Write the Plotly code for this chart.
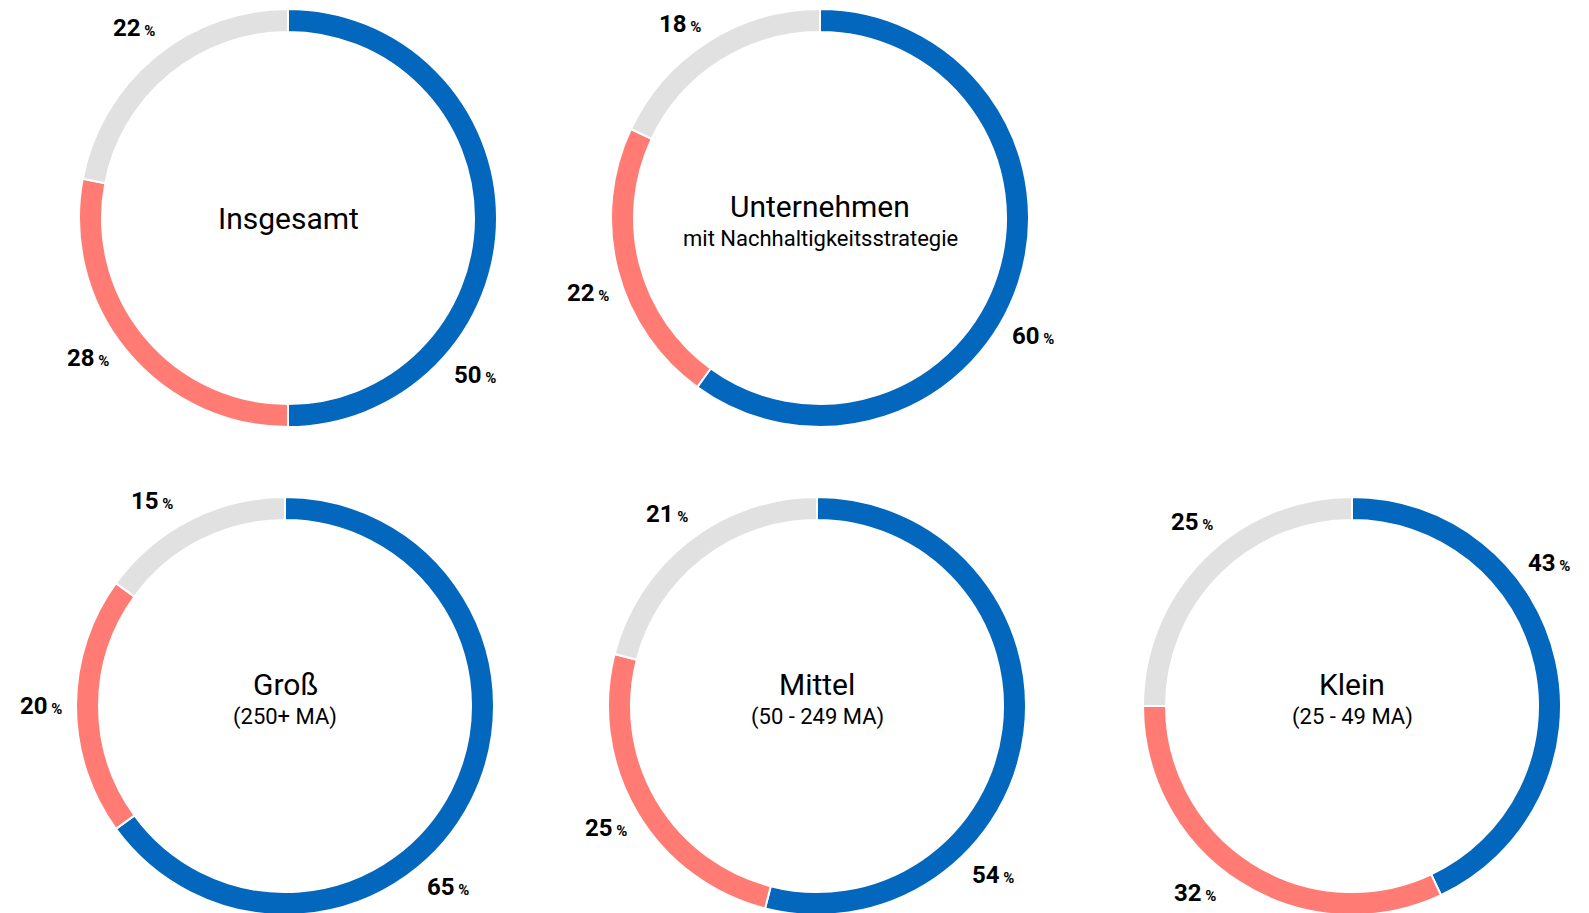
import numpy as np
import plotly.graph_objects as go

W, H = 1589, 913
OFF = 8  # page body margin of the html page

# data
titles = ['Insgesamt', 'Unternehmen', 'Groß', 'Mittel', 'Klein']
subtitles = ['', 'mit Nachhaltigkeitsstrategie', '(250+ MA)', '(50 - 249 MA)', '(25 - 49 MA)']
blue_vals = [50, 60, 65, 54, 43]
red_vals = [28, 22, 20, 25, 32]
grey_vals = [22, 18, 15, 21, 25]

colors = ['#0368BD', '#FF7B74', '#E1E1E1']

# ring centres (screen px) and label angles (deg, clockwise from top)
centers = [(288, 218), (820, 218), (285, 706), (817, 706), (1352, 706)]
label_angles = [
    [130, 235, 321],
    [119, 252, 325],
    [138, 270, 327],
    [134, 240, 322],
    [54, 220, 319],
]
# vertical offset of title / subtitle from ring centre
title_dy = [0, -12, -22, -22, -22]
sub_dy = [0, 20, 11, 11, 11]

R = 209
LABEL_R = 244
FONT = 'Roboto'


def px_x(x):
    return (x - OFF) / W


def px_y(y):
    return 1 - (y - OFF) / H


def note(x, y, text, size, weight='normal'):
    fig.add_annotation(
        x=px_x(x), y=px_y(y), xref='paper', yref='paper',
        xanchor='center', yanchor='middle', borderpad=0,
        text=text, showarrow=False,
        font=dict(family=FONT, size=size, color='black', weight=weight),
    )


fig = go.Figure()

for i in range(len(titles)):
    cx, cy = centers[i]
    vals = [blue_vals[i], red_vals[i], grey_vals[i]]
    fig.add_trace(go.Pie(
        values=vals,
        labels=['a', 'b', 'c'],
        sort=False,
        direction='clockwise',
        rotation=0,
        hole=0.89,
        textinfo='none',
        hoverinfo='skip',
        marker=dict(colors=colors, line=dict(color='white', width=2)),
        domain=dict(x=[px_x(cx - R), px_x(cx + R)], y=[px_y(cy + R), px_y(cy - R)]),
        showlegend=False,
    ))

    # percentage labels round the ring
    for v, ang in zip(vals, label_angles[i]):
        a = np.radians(ang)
        lx = cx + LABEL_R * np.sin(a)
        ly = max(cy - LABEL_R * np.cos(a), 24)  # keep inside the top edge
        note(lx, ly, "%d<span style='font-size:15px'> %%</span>" % v, 24, 'bold')

    # centre text
    if subtitles[i]:
        note(cx, cy + title_dy[i], titles[i], 30)
        note(cx, cy + sub_dy[i], subtitles[i], 22)
    else:
        note(cx, cy, titles[i], 30)

fig.update_layout(
    width=W, height=H,
    margin=dict(l=0, r=0, t=0, b=0),
    paper_bgcolor='white', plot_bgcolor='white',
)

fig.write_html("out.html")
